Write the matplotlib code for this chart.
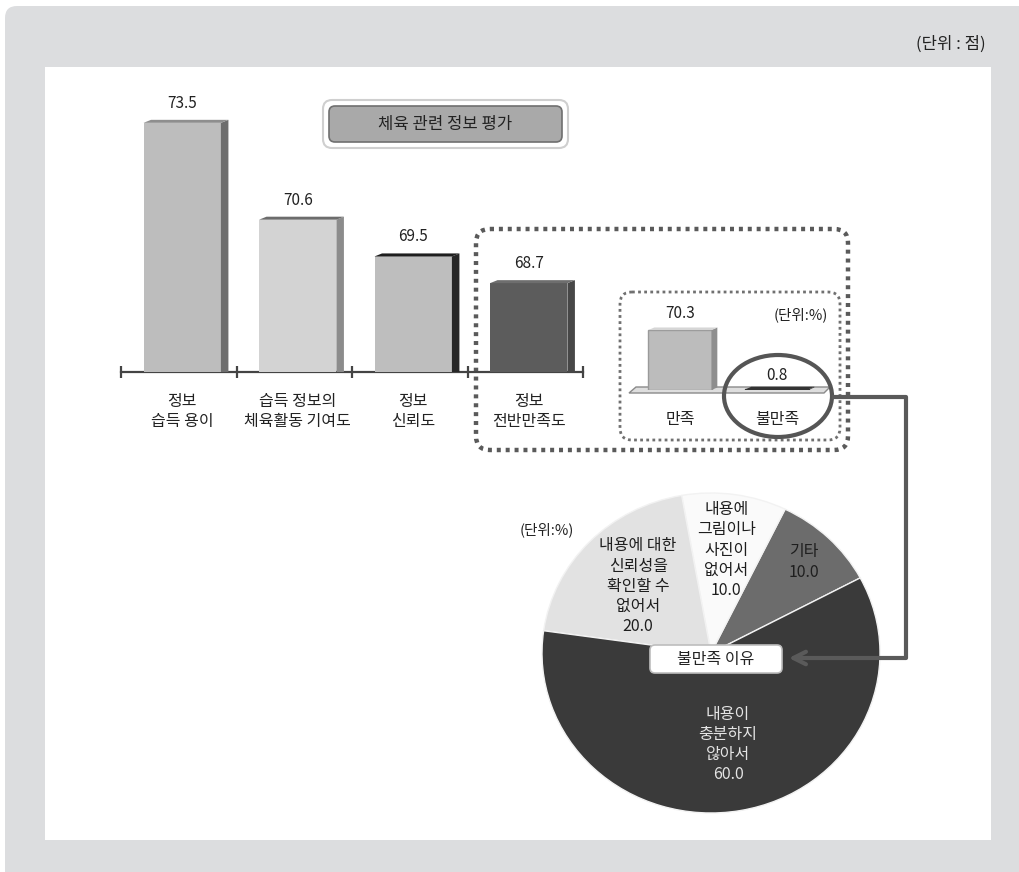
import numpy as np
import matplotlib.pyplot as plt
from matplotlib.patches import FancyBboxPatch, Rectangle, Ellipse, Polygon

plt.rcParams['font.family'] = ['Noto Sans CJK KR', 'DejaVu Sans']

# Data
eval_labels = ['정보\n습득 용이', '습득 정보의\n체육활동 기여도', '정보\n신뢰도', '정보\n전반만족도']
eval_scores = [73.5, 70.6, 69.5, 68.7]

sat_labels = ['만족', '불만족']
sat_values = [70.3, 0.8]

reason_labels = ['기타', '내용에\n그림이나\n사진이\n없어서', '내용에 대한\n신뢰성을\n확인할 수\n없어서', '내용이\n충분하지\n않아서']
reason_values = [10.0, 10.0, 20.0, 60.0]

W, H = 1019, 872


def box(x0, y0, x1, y1):
    return [x0 / W, 1 - y1 / H, (x1 - x0) / W, (y1 - y0) / H]


fig = plt.figure(figsize=(W / 100, H / 100), dpi=100)

# background layer (pixel coordinates)
bg = fig.add_axes([0, 0, 1, 1])
bg.set_xlim(0, W)
bg.set_ylim(H, 0)
bg.axis('off')
bg.add_patch(FancyBboxPatch((5, 6), 1040, 900, boxstyle='round,pad=0,rounding_size=12',
                            fc='#dcdddf', ec='none'))
bg.add_patch(Rectangle((45, 67), 946, 773, fc='white', ec='none'))
bg.text(986, 44, '(단위 : 점)', ha='right', va='center', fontsize=12, color='#222')

# title box
bg.add_patch(FancyBboxPatch((323, 100), 245, 48, boxstyle='round,pad=0,rounding_size=9',
                            fc='white', ec='#cfcfcf', lw=1.5))
bg.add_patch(FancyBboxPatch((329, 106), 233, 36, boxstyle='round,pad=0,rounding_size=6',
                            fc='#a9a9a9', ec='#6f6f6f', lw=1.2))
bg.text(445, 124, '체육 관련 정보 평가', ha='center', va='center', fontsize=12, color='#222')

# dotted frames
bg.add_patch(FancyBboxPatch((476, 229), 372, 221, boxstyle='round,pad=0,rounding_size=14',
                            fc='none', ec='#5a5a5a', lw=3.2, ls=(0, (0.9, 1.1)), capstyle='butt'))
bg.add_patch(FancyBboxPatch((620, 292), 220, 148, boxstyle='round,pad=0,rounding_size=12',
                            fc='none', ec='#707070', lw=2, ls=(0, (1, 1.2)), capstyle='butt'))

# platform of small bar chart
bg.add_patch(Polygon([(629, 393), (636, 387), (830, 387), (824, 393)], closed=True,
                     fc='#dedede', ec='#8a8a8a', lw=1))

# main bar chart
ax = fig.add_axes(box(121, 90, 583, 372))
ax.patch.set_alpha(0)
ybase = 66.04
ax.set_xlim(-0.5, 3.5)
ax.set_ylim(ybase, ybase + 282 / 33.4)
xpos = np.arange(len(eval_scores)) + 0.03
bw = 0.67
dx, dy = 0.065, 0.09
front = ['#bdbdbd', '#d3d3d3', '#bebebe', '#5c5c5c']
side = ['#6e6e6e', '#8c8c8c', '#262626', '#474747']
top = ['#8e8e8e', '#6c6c6c', '#1e1e1e', '#6e6e6e']
bars = ax.bar(xpos, np.array(eval_scores) - ybase, bottom=ybase, width=bw,
              color=front, edgecolor='none', zorder=3)
for b, sc, tc, v in zip(bars, side, top, eval_scores):
    xl, xr = b.get_x(), b.get_x() + b.get_width()
    ax.fill([xr, xr, xr + dx, xr + dx], [ybase, v, v + dy, ybase], color=sc, zorder=3, lw=0)
    ax.fill([xl, xl + dx, xr + dx, xr], [v, v + dy, v + dy, v], color=tc, zorder=3, lw=0)
    ax.annotate(f'{v:.1f}', (b.get_x() + b.get_width() / 2, v), xytext=(0, 8),
                textcoords='offset points', ha='center', va='bottom', fontsize=11, color='#222')
for s in ['top', 'right', 'left']:
    ax.spines[s].set_visible(False)
ax.spines['bottom'].set_color('#444')
ax.spines['bottom'].set_linewidth(1.6)
ax.set_yticks([])
ax.set_xticks(xpos)
ax.set_xticklabels(eval_labels, fontsize=11.5, color='#222', linespacing=1.25)
ax.tick_params(axis='x', which='major', length=0, pad=15)
ax.set_xticks(np.arange(-0.5, 4.0, 1.0), minor=True)
ax.tick_params(axis='x', which='minor', length=8, width=1.6, direction='inout', color='#444')

# small satisfaction bar chart
ax2 = fig.add_axes(box(628, 290, 828, 390))
ax2.patch.set_alpha(0)
ax2.set_xlim(-0.536, 1.526)
ax2.set_ylim(0, 100 / 0.853)
sx = np.arange(len(sat_values))
sw = 0.65
sbars = ax2.bar(sx, sat_values, width=sw, color=['#bcbcbc', '#5a5a5a'],
                edgecolor=['#9a9a9a', '#333333'], lw=1, zorder=3)
for b, v, sc in zip(sbars, sat_values, ['#8e8e8e', '#333333']):
    xl, xr = b.get_x(), b.get_x() + b.get_width()
    ax2.fill([xr, xr, xr + 0.06, xr + 0.06], [0, v, v + 3, 3], color=sc, zorder=3, lw=0)
    ax2.fill([xl, xl + 0.06, xr + 0.06, xr], [v, v + 3, v + 3, v], color='#d6d6d6' if v > 5 else '#333',
             zorder=3, lw=0)
    ax2.annotate(f'{v:.1f}', (b.get_x() + b.get_width() / 2, v), xytext=(0, 4 if v < 5 else 6),
                 textcoords='offset points', ha='center', va='bottom', fontsize=11, color='#222')
for s in ax2.spines.values():
    s.set_visible(False)
ax2.set_yticks([])
ax2.set_xticks(sx)
ax2.set_xticklabels(sat_labels, fontsize=11.5, color='#222')
ax2.tick_params(axis='x', length=0, pad=15)
ax2.text(1.0, 0.75, '(단위:%)', transform=ax2.transAxes, ha='right', va='center',
         fontsize=10.5, color='#222')

# pie of dissatisfaction reasons
ax3 = fig.add_axes(box(542, 493, 880, 813))
wedges, _ = ax3.pie(reason_values, startangle=28, counterclock=True,
                    colors=['#6c6c6c', '#fafafa', '#e2e2e2', '#3a3a3a'],
                    wedgeprops=dict(edgecolor='#f2f2f2', linewidth=1))
ax3.set_aspect('auto')
ax3.set_xlim(-1, 1)
ax3.set_ylim(-1, 1)
label_r = [0.79, 0.65, 0.6, 0.58]
label_c = ['#1e1e1e', '#1e1e1e', '#1e1e1e', '#e4e4e4']
for w, lab, v, r, c in zip(wedges, reason_labels, reason_values, label_r, label_c):
    th = np.deg2rad((w.theta1 + w.theta2) / 2)
    ax3.text(r * np.cos(th), r * np.sin(th), f'{lab}\n{v:.1f}', ha='center', va='center',
             fontsize=11.5, color=c, linespacing=1.25)

# overlay layer: highlight, connector, pie caption
ov = fig.add_axes([0, 0, 1, 1])
ov.set_xlim(0, W)
ov.set_ylim(H, 0)
ov.axis('off')
ov.patch.set_alpha(0)
ov.add_patch(Ellipse((778, 396), 108, 82, fc='none', ec='#555555', lw=3))
ov.plot([832, 906, 906, 800], [397, 397, 658, 658], color='#5a5a5a', lw=3, solid_capstyle='butt')
ov.annotate('', xy=(786, 658), xytext=(806, 658),
            arrowprops=dict(arrowstyle='->,head_width=0.45,head_length=0.9', color='#5a5a5a', lw=3))
ov.add_patch(FancyBboxPatch((650, 645), 132, 28, boxstyle='round,pad=0,rounding_size=5',
                            fc='white', ec='#bdbdbd', lw=1.2))
ov.text(716, 659, '불만족 이유', ha='center', va='center', fontsize=11.5, color='#222')
ov.text(547, 530, '(단위:%)', ha='center', va='center', fontsize=10.5, color='#222')

fig.savefig('out.png', dpi=100)
